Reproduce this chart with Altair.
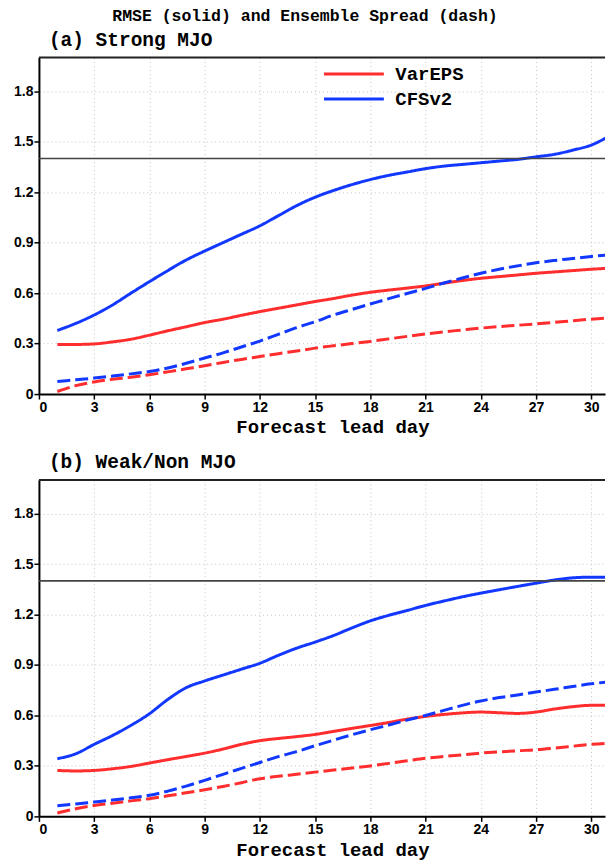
import altair as alt
import pandas as pd

# Forecast lead days (1..31)
days = list(range(1, 32))

# (a) Strong MJO
strong_vareps_rmse = [0.295, 0.295, 0.298, 0.31, 0.326, 0.35, 0.376, 0.40, 0.425, 0.445,
                      0.468, 0.49, 0.51, 0.53, 0.55, 0.568, 0.588, 0.605, 0.618, 0.63,
                      0.643, 0.659, 0.675, 0.688, 0.698, 0.708, 0.718, 0.726, 0.734, 0.742, 0.748]
strong_cfsv2_rmse = [0.378, 0.42, 0.47, 0.53, 0.60, 0.668, 0.734, 0.797, 0.85, 0.90,
                     0.95, 1.00, 1.06, 1.12, 1.17, 1.21, 1.245, 1.275, 1.30, 1.32,
                     1.34, 1.355, 1.365, 1.375, 1.385, 1.395, 1.41, 1.425, 1.45, 1.48, 1.535]
strong_vareps_spread = [0.015, 0.05, 0.072, 0.088, 0.10, 0.115, 0.132, 0.15, 0.168, 0.188,
                        0.206, 0.223, 0.24, 0.256, 0.273, 0.287, 0.30, 0.313, 0.328, 0.343,
                        0.357, 0.37, 0.381, 0.392, 0.401, 0.409, 0.417, 0.426, 0.436, 0.445, 0.452]
strong_cfsv2_spread = [0.075, 0.085, 0.095, 0.107, 0.12, 0.134, 0.155, 0.183, 0.214, 0.245,
                       0.28, 0.315, 0.355, 0.395, 0.43, 0.47, 0.503, 0.535, 0.567, 0.598,
                       0.628, 0.66, 0.69, 0.718, 0.742, 0.762, 0.78, 0.794, 0.806, 0.818, 0.828]

# (b) Weak/Non MJO
weak_vareps_rmse = [0.273, 0.27, 0.273, 0.283, 0.297, 0.317, 0.337, 0.356, 0.376, 0.40,
                    0.428, 0.45, 0.463, 0.474, 0.487, 0.505, 0.523, 0.54, 0.558, 0.578,
                    0.594, 0.606, 0.615, 0.62, 0.616, 0.612, 0.62, 0.638, 0.652, 0.66, 0.66]
weak_cfsv2_rmse = [0.343, 0.372, 0.428, 0.481, 0.541, 0.61, 0.695, 0.765, 0.805, 0.84,
                   0.875, 0.91, 0.957, 1.0, 1.036, 1.075, 1.12, 1.162, 1.195, 1.224,
                   1.254, 1.28, 1.305, 1.327, 1.347, 1.367, 1.386, 1.405, 1.418, 1.422, 1.422]
weak_vareps_spread = [0.02, 0.045, 0.065, 0.078, 0.092, 0.105, 0.122, 0.14, 0.158, 0.178,
                      0.2, 0.224, 0.238, 0.25, 0.263, 0.275, 0.287, 0.30, 0.315, 0.33,
                      0.345, 0.356, 0.366, 0.376, 0.383, 0.39, 0.396, 0.406, 0.417, 0.428, 0.435]
weak_cfsv2_spread = [0.063, 0.073, 0.085, 0.097, 0.11, 0.125, 0.15, 0.18, 0.214, 0.25,
                     0.285, 0.32, 0.355, 0.385, 0.42, 0.453, 0.485, 0.515, 0.543, 0.572,
                     0.60, 0.63, 0.66, 0.686, 0.706, 0.722, 0.739, 0.755, 0.772, 0.788, 0.80]

models = ["VarEPS", "CFSv2"]
model_colors = ["#ff2d2d", "#1238ff"]
metrics = ["RMSE", "Spread"]
metric_dashes = [[1, 0], [13, 5]]
x_ticks = list(range(0, 31, 3))
y_ticks = [0, 0.3, 0.6, 0.9, 1.2, 1.5, 1.8]
threshold = 1.4
X_MAX = 30.75
Y_MAX = 2.0

MONO = "Liberation Mono"
SANS = "Liberation Sans"


def to_frame(series):
    rows = []
    for (model, metric), vals in series.items():
        for d, v in zip(days, vals):
            rows.append({"day": d, "value": v, "model": model, "metric": metric})
    return pd.DataFrame(rows)


strong_df = to_frame({
    ("VarEPS", "RMSE"): strong_vareps_rmse,
    ("CFSv2", "RMSE"): strong_cfsv2_rmse,
    ("VarEPS", "Spread"): strong_vareps_spread,
    ("CFSv2", "Spread"): strong_cfsv2_spread,
})
weak_df = to_frame({
    ("VarEPS", "RMSE"): weak_vareps_rmse,
    ("CFSv2", "RMSE"): weak_cfsv2_rmse,
    ("VarEPS", "Spread"): weak_vareps_spread,
    ("CFSv2", "Spread"): weak_cfsv2_spread,
})


def panel(df, title, show_legend):
    x = alt.X(
        "day:Q",
        scale=alt.Scale(domain=[0, X_MAX], nice=False, zero=False),
        axis=alt.Axis(values=x_ticks, title="Forecast lead day", titleX=294),
    )
    y = alt.Y(
        "value:Q",
        scale=alt.Scale(domain=[0, Y_MAX], nice=False),
        axis=alt.Axis(
            values=y_ticks,
            title=None,
            labelExpr="datum.value == 0 ? '0' : format(datum.value, '.1f')",
            minExtent=35,
            maxExtent=35,
        ),
    )
    if show_legend:
        legend = alt.Legend(
            title=None,
            orient="none",
            legendX=284,
            legendY=4,
            symbolType="stroke",
            symbolSize=3600,
            symbolStrokeWidth=3,
            clipHeight=25,
            rowPadding=0,
            padding=0,
            labelFont=MONO,
            labelFontSize=19,
            labelFontWeight="bold",
            labelColor="black",
            labelOffset=10,
        )
    else:
        legend = None
    lines = alt.Chart(df).mark_line(strokeWidth=3, interpolate="monotone", clip=True).encode(
        x=x,
        y=y,
        color=alt.Color("model:N", scale=alt.Scale(domain=models, range=model_colors), legend=legend),
        strokeDash=alt.StrokeDash("metric:N", scale=alt.Scale(domain=metrics, range=metric_dashes), legend=None),
    )
    ref = alt.Chart(pd.DataFrame({"v": [threshold]})).mark_rule(color="#444444", strokeWidth=1.6).encode(
        y=alt.datum(threshold)
    )
    top = alt.Chart(pd.DataFrame({"v": [Y_MAX]})).mark_rule(color="#222222", strokeWidth=2).encode(
        y=alt.datum(Y_MAX)
    )
    return alt.layer(lines, ref, top).properties(
        width=567,
        height=337,
        title=alt.TitleParams(
            title, anchor="start", frame="group", dx=10, font=MONO, fontSize=19.5,
            fontWeight="bold", offset=6, color="black"
        ),
    )


chart = (
    alt.vconcat(
        panel(strong_df, "(a) Strong MJO", True),
        panel(weak_df, "(b) Weak/Non MJO", False),
        spacing=15,
    )
    .resolve_scale(color="independent", strokeDash="independent")
    .properties(
        title=alt.TitleParams(
            "RMSE (solid) and Ensemble Spread (dash)",
            anchor="middle",
            font=MONO,
            fontSize=16.5,
            fontWeight="bold",
            color="black",
            offset=6,
        ),
        padding={"left": 4, "top": 7, "right": 0, "bottom": 2},
        background="white",
    )
    .configure_view(stroke=None)
    .configure_axis(
        domainColor="black",
        domainWidth=2,
        tickColor="black",
        tickWidth=1.5,
        tickSize=5,
        labelFont=SANS,
        labelFontSize=14,
        labelFontWeight="bold",
        labelColor="black",
        labelPadding=1,
        gridColor="#c4c4c4",
        gridDash=[1, 3],
        gridWidth=1,
        titleFont=MONO,
        titleFontSize=19,
        titleFontWeight="bold",
        titleColor="black",
        titlePadding=4,
    )
)

chart.save("out.html", embed_options={"renderer": "svg", "actions": False})
